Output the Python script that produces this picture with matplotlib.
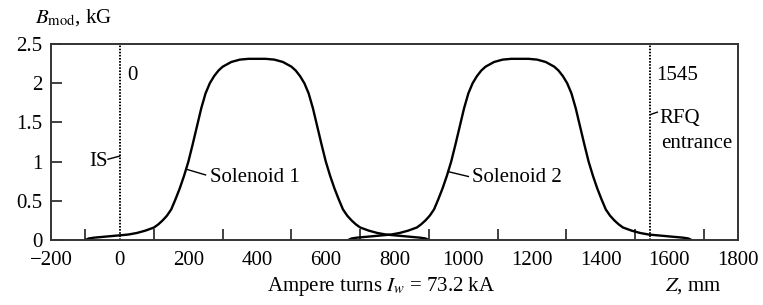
import matplotlib
matplotlib.use("Agg")
import matplotlib.pyplot as plt

plt.rcParams['font.family'] = ['Liberation Serif', 'DejaVu Serif']
plt.rcParams['mathtext.fontset'] = 'stix'

# Solenoid 1 field profile (Z in mm, B in kG)
z1 = [-100, -90, -75, -50, -25, 0, 25, 50, 75, 100, 112.5, 125, 137.5, 150, 162.5,
      175, 187.5, 200, 212.5, 225, 237.5, 250, 262.5, 275, 287.5, 300, 312.5, 325,
      350, 375, 400, 425, 450, 475, 487.5, 500, 512.5, 525, 537.5, 550, 562.5, 575,
      587.5, 600, 612.5, 625, 637.5, 650, 662.5, 675, 687.5, 700, 725, 750, 775, 800,
      825, 850, 875, 890, 900]
b1 = [0.00, 0.02, 0.03, 0.04, 0.05, 0.06, 0.07, 0.09, 0.12, 0.16, 0.20, 0.25, 0.31,
      0.39, 0.52, 0.66, 0.82, 1.00, 1.22, 1.45, 1.68, 1.87, 2.00, 2.09, 2.16, 2.21,
      2.24, 2.27, 2.30, 2.31, 2.31, 2.31, 2.30, 2.27, 2.24, 2.21, 2.16, 2.09, 2.00,
      1.87, 1.68, 1.45, 1.22, 1.00, 0.82, 0.66, 0.52, 0.39, 0.31, 0.25, 0.20, 0.16,
      0.12, 0.09, 0.07, 0.06, 0.05, 0.04, 0.03, 0.02, 0.00]
# Solenoid 2 field profile
z2 = [665, 675, 690, 715, 740, 765, 790, 815, 840, 865, 877.5, 890, 902.5, 915, 927.5,
      940, 952.5, 965, 977.5, 990, 1002.5, 1015, 1027.5, 1040, 1052.5, 1065, 1077.5,
      1090, 1115, 1140, 1165, 1190, 1215, 1240, 1252.5, 1265, 1277.5, 1290, 1302.5,
      1315, 1327.5, 1340, 1352.5, 1365, 1377.5, 1390, 1402.5, 1415, 1427.5, 1440,
      1452.5, 1465, 1490, 1515, 1540, 1565, 1590, 1615, 1640, 1655, 1665]
b2 = [0.00, 0.02, 0.03, 0.04, 0.05, 0.06, 0.07, 0.09, 0.12, 0.16, 0.20, 0.25, 0.31,
      0.39, 0.52, 0.66, 0.82, 1.00, 1.22, 1.45, 1.68, 1.87, 2.00, 2.09, 2.16, 2.21,
      2.24, 2.27, 2.30, 2.31, 2.31, 2.31, 2.30, 2.27, 2.24, 2.21, 2.16, 2.09, 2.00,
      1.87, 1.68, 1.45, 1.22, 1.00, 0.82, 0.66, 0.52, 0.39, 0.31, 0.25, 0.20, 0.16,
      0.12, 0.09, 0.07, 0.06, 0.05, 0.04, 0.03, 0.02, 0.00]

marker_z = [0, 1545]
x_ticks = list(range(-200, 1801, 200))
x_minor = list(range(-100, 1801, 100))
y_ticks = [0, 0.5, 1, 1.5, 2, 2.5]

FS = 15

fig = plt.figure(figsize=(7.63, 3.05), dpi=100)
ax = fig.add_axes([0.0668, 0.213, 0.9005, 0.643])

ax.plot(z1, b1, color='black', lw=1.7)
ax.plot(z2, b2, color='black', lw=1.7)
for mz in marker_z:
    ax.plot([mz, mz], [0, 2.5], color='black', lw=1.4, linestyle=(0, (0.8, 0.8)))

ax.set_xlim(-200, 1800)
ax.set_ylim(0, 2.5)
ax.set_xticks(x_ticks)
ax.set_xticklabels(['\u2212200' if t < 0 else str(t) for t in x_ticks])
ax.set_xticks(x_minor, minor=True)
ax.set_yticks(y_ticks)
ax.set_yticklabels(['0', '0.5', '1', '1.5', '2', '2.5'])
ax.tick_params(axis='x', which='major', direction='in', length=0, labelsize=FS, pad=8)
ax.tick_params(axis='x', which='minor', direction='in', length=8, width=1.3, color='#333333')
ax.tick_params(axis='y', which='major', direction='in', length=8, width=1.3,
               color='#333333', labelsize=FS, pad=6)
for s in ax.spines.values():
    s.set_linewidth(1.4)
    s.set_color('#333333')

# annotations
ax.text(22, 2.1, '0', fontsize=FS, va='center', ha='left')
ax.text(1562, 2.1, '1545', fontsize=FS, va='center', ha='left')
ax.text(1570, 1.55, 'RFQ', fontsize=FS, va='center', ha='left')
ax.text(1575, 1.23, 'entrance', fontsize=FS, va='center', ha='left')
ax.plot([1545, 1565], [1.6, 1.63], color='black', lw=1)
ax.text(-36, 1.0, 'IS', fontsize=FS, va='center', ha='right')
ax.plot([-34, 0], [1.03, 1.07], color='black', lw=1)
ax.text(262, 0.8, 'Solenoid 1', fontsize=FS, va='center', ha='left')
ax.plot([196, 250], [0.9, 0.83], color='black', lw=1)
ax.text(1027, 0.8, 'Solenoid 2', fontsize=FS, va='center', ha='left')
ax.plot([958, 1015], [0.87, 0.81], color='black', lw=1)

fig.text(35 / 763, 1 - 18 / 305, r'$B_{\rm mod}$, kG', fontsize=FS, va='center', ha='left')
fig.text(381 / 763, 1 - 286 / 305, r'Ampere turns $I_w$ = 73.2 kA', fontsize=FS,
         va='center', ha='center')
fig.text(693 / 763, 1 - 286 / 305, r'$Z$, mm', fontsize=FS, va='center', ha='center')

fig.savefig('out.png', dpi=100)
